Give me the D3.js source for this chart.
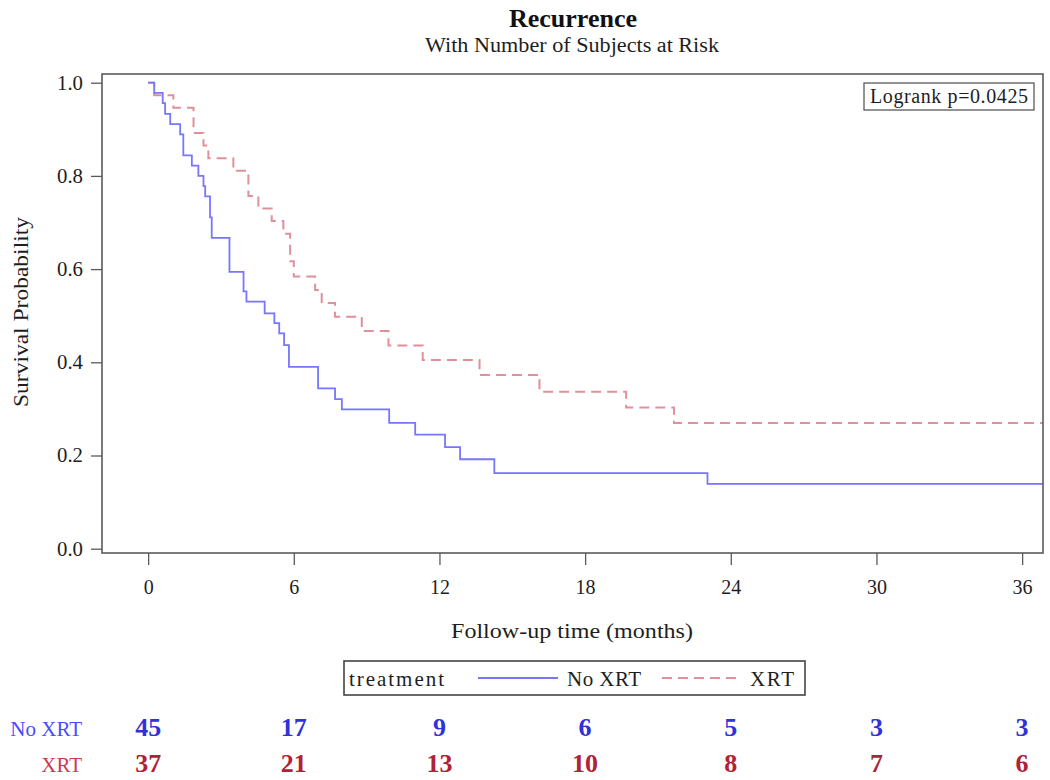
<!DOCTYPE html>
<html>
<head>
<meta charset="utf-8">
<script src="https://cdn.jsdelivr.net/npm/d3@7"></script>
<style>
  html, body { margin: 0; padding: 0; background: #fff; }
  svg { display: block; }
  text { font-family: "Liberation Serif", "Times New Roman", serif; }
</style>
</head>
<body>
<svg id="chart" width="1050" height="780"></svg>
<script>
// ---- data ----
const groups = ["No XRT", "XRT"];
const noXrtTimes = [0, 0.25, 0.6, 0.7, 0.91, 1.32, 1.45, 1.8, 2.07, 2.28, 2.35, 2.55, 2.62, 3.35, 3.93, 4.05, 4.8, 5.2, 5.4, 5.6, 5.8, 7.0, 7.7, 7.98, 9.93, 11.0, 12.23, 12.85, 14.26, 23.04];
const noXrtSurv  = [1.0, 0.978, 0.956, 0.933, 0.911, 0.889, 0.844, 0.822, 0.800, 0.778, 0.756, 0.711, 0.667, 0.594, 0.552, 0.530, 0.505, 0.484, 0.462, 0.437, 0.390, 0.344, 0.321, 0.299, 0.270, 0.245, 0.218, 0.192, 0.162, 0.139];
const xrtTimes = [0, 0.25, 1.04, 1.87, 2.28, 2.48, 3.51, 4.13, 4.54, 5.09, 5.57, 5.85, 6.0, 6.88, 7.15, 7.7, 8.8, 9.9, 11.31, 13.65, 16.12, 19.69, 21.66];
const xrtSurv  = [1.0, 0.973, 0.946, 0.892, 0.865, 0.838, 0.811, 0.757, 0.730, 0.703, 0.676, 0.617, 0.584, 0.555, 0.527, 0.498, 0.467, 0.436, 0.405, 0.373, 0.337, 0.303, 0.270];
const xTicks = [0, 6, 12, 18, 24, 30, 36];
const yTicks = [0.0, 0.2, 0.4, 0.6, 0.8, 1.0];
const atRiskNoXrt = [45, 17, 9, 6, 5, 3, 3];
const atRiskXrt   = [37, 21, 13, 10, 8, 7, 6];
const pValueText = "Logrank p=0.0425";

// ---- layout ----
const svg = d3.select("#chart");
const frame = { left: 102, right: 1043, top: 74, bottom: 553 };
const xMin = -1.9, xMax = 36.86;
const x = d3.scaleLinear().domain([xMin, xMax]).range([frame.left, frame.right]);
const y = d3.scaleLinear().domain([0, 1]).range([548.7, 82.7]);

const colBlueLine = "#7676ff";
const colRedLine = "#e0909b";
const colBlueText = "#3131dc";
const colRedText = "#b02236";
const axisCol = "#5a5a5a";
const textCol = "#1e1e1e";

function label(g, opts) {
  const t = g.append("text").attr("x", opts.x).attr("y", opts.y)
    .attr("text-anchor", opts.anchor || "start")
    .attr("font-size", opts.size).attr("fill", opts.fill || textCol)
    .text(opts.text);
  if (opts.bold) t.attr("font-weight", "bold");
  if (opts.len) t.attr("textLength", opts.len).attr("lengthAdjust", opts.adjust || "spacing");
  if (opts.transform) t.attr("transform", opts.transform);
  return t;
}

// titles
label(svg, { x: 573, y: 27, anchor: "middle", size: 26, bold: true, len: 128, adjust: "spacingAndGlyphs", text: "Recurrence", fill: "#111" });
label(svg, { x: 572, y: 52, anchor: "middle", size: 20, len: 294, adjust: "spacingAndGlyphs", text: "With Number of Subjects at Risk" });

// curves
svg.append("clipPath").attr("id", "plotclip").append("rect")
  .attr("x", frame.left).attr("y", frame.top).attr("width", frame.right - frame.left).attr("height", frame.bottom - frame.top);

const line = d3.line().x(d => x(d[0])).y(d => y(d[1])).curve(d3.curveStepAfter);
function series(times, surv) {
  const pts = times.map((t, i) => [t, surv[i]]);
  pts.push([xMax, surv[surv.length - 1]]);
  return pts;
}
const plot = svg.append("g").attr("clip-path", "url(#plotclip)");
plot.append("path").datum(series(xrtTimes, xrtSurv)).attr("d", line)
  .attr("fill", "none").attr("stroke", colRedLine).attr("stroke-width", 2)
  .attr("stroke-dasharray", "10,6");
plot.append("path").datum(series(noXrtTimes, noXrtSurv)).attr("d", line)
  .attr("fill", "none").attr("stroke", colBlueLine).attr("stroke-width", 1.8);

// frame
svg.append("rect").attr("x", frame.left).attr("y", frame.top)
  .attr("width", frame.right - frame.left).attr("height", frame.bottom - frame.top)
  .attr("fill", "none").attr("stroke", axisCol).attr("stroke-width", 1.6);

// y axis
const yAxis = d3.axisLeft(y).tickValues(yTicks).tickFormat(d3.format(".1f")).tickSize(11).tickPadding(8);
const gy = svg.append("g").attr("transform", `translate(${frame.left},0)`).call(yAxis);
gy.select(".domain").remove();
gy.selectAll(".tick line").attr("stroke", axisCol).attr("stroke-width", 1.3);
gy.selectAll(".tick text").attr("font-family", "Liberation Serif").attr("font-size", 20).attr("fill", textCol)
  .attr("textLength", 26).attr("lengthAdjust", "spacingAndGlyphs");

label(svg, { x: 0, y: 0, anchor: "middle", size: 22, len: 190, adjust: "spacingAndGlyphs", text: "Survival Probability",
  transform: "translate(28,312) rotate(-90)" });

// x axis
const xAxis = d3.axisBottom(x).tickValues(xTicks).tickFormat(d3.format("d")).tickSize(12).tickPadding(0);
const gx = svg.append("g").attr("transform", `translate(0,${frame.bottom})`).call(xAxis);
gx.select(".domain").remove();
gx.selectAll(".tick line").attr("stroke", axisCol).attr("stroke-width", 1.3);
gx.selectAll(".tick text").attr("font-family", "Liberation Serif").attr("font-size", 20).attr("fill", textCol)
  .attr("y", 41).attr("dy", null);

label(svg, { x: 572, y: 638, anchor: "middle", size: 22, len: 242, adjust: "spacingAndGlyphs", text: "Follow-up time (months)" });

// logrank box
svg.append("rect").attr("x", 864).attr("y", 83).attr("width", 170).attr("height", 27)
  .attr("fill", "#fff").attr("stroke", axisCol).attr("stroke-width", 1.3);
label(svg, { x: 949, y: 103, anchor: "middle", size: 20, len: 158, text: pValueText });

// legend
const lg = svg.append("g");
lg.append("rect").attr("x", 344).attr("y", 661).attr("width", 461).attr("height", 34)
  .attr("fill", "#fff").attr("stroke", "#444").attr("stroke-width", 1.6);
label(lg, { x: 349, y: 686, size: 21, len: 95, text: "treatment" });
lg.append("line").attr("x1", 478).attr("x2", 558).attr("y1", 678).attr("y2", 678)
  .attr("stroke", colBlueLine).attr("stroke-width", 1.8);
label(lg, { x: 567, y: 686, size: 21, len: 74, text: groups[0] });
lg.append("line").attr("x1", 662).attr("x2", 740).attr("y1", 678).attr("y2", 678)
  .attr("stroke", colRedLine).attr("stroke-width", 2).attr("stroke-dasharray", "10,6");
label(lg, { x: 750, y: 686, size: 21, len: 44, text: groups[1] });

// at-risk table
const rows = [
  { label: groups[0], values: atRiskNoXrt, y: 736, labelCol: "#4b4bff", valCol: colBlueText },
  { label: groups[1], values: atRiskXrt, y: 772, labelCol: "#cc3a50", valCol: colRedText }
];
rows.forEach(r => {
  label(svg, { x: 82, y: r.y, anchor: "end", size: 21, fill: r.labelCol, text: r.label });
  svg.append("g").selectAll("text").data(r.values).join("text")
    .attr("x", (d, i) => x(xTicks[i])).attr("y", r.y).attr("text-anchor", "middle")
    .attr("font-size", 26).attr("font-weight", "bold").attr("fill", r.valCol)
    .text(d => d);
});
</script>
</body>
</html>
